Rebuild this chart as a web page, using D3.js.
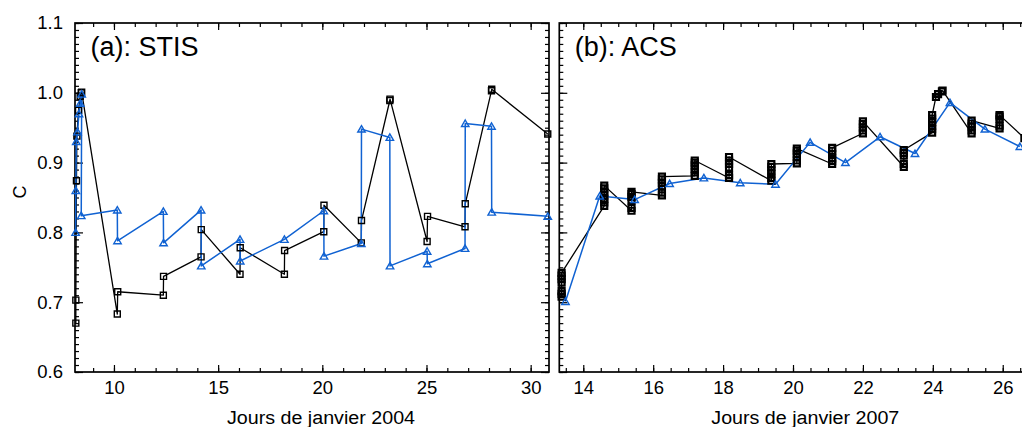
<!DOCTYPE html>
<html>
<head>
<meta charset="utf-8">
<script src="https://cdn.jsdelivr.net/npm/d3@7"></script>
<style>
  html, body { margin: 0; padding: 0; background: #fff; }
  svg { display: block; font-family: "Liberation Sans", Arial, Helvetica, sans-serif; }
</style>
</head>
<body>
<svg id="chart" width="1022" height="427"></svg>
<script>
// ---------- DATA ----------
// Panel (a) STIS, January 2004 — black squares
const stisBlackDays = [8.17, 8.17, 8.20, 8.22, 8.30, 8.38, 8.43, 8.45,
  10.16, 10.18, 12.37, 12.38, 14.18, 14.19, 16.05, 16.06, 18.18, 18.19,
  20.07, 20.08, 21.87, 21.88, 23.24, 23.25, 25.03, 25.05, 26.85, 26.86, 28.12, 28.13, 30.82];
const stisBlackVals = [0.670, 0.703, 0.874, 0.938, 0.975, 0.995, 1.000, 1.001,
  0.683, 0.715, 0.710, 0.737, 0.765, 0.804, 0.740, 0.778, 0.740, 0.774,
  0.801, 0.839, 0.785, 0.817, 0.989, 0.991, 0.787, 0.823, 0.808, 0.841, 1.003, 1.005, 0.941];
// Panel (a) STIS — blue triangles
const stisBlueDays = [8.16, 8.17, 8.19, 8.25, 8.32, 8.38, 8.45, 8.43,
  10.16, 10.17, 12.37, 12.38, 14.18, 14.19, 16.05, 16.06, 18.18,
  20.07, 20.08, 21.87, 21.88, 23.24, 23.25, 25.03, 25.04, 26.85, 26.86, 28.12, 28.13, 30.82];
const stisBlueVals = [0.800, 0.860, 0.930, 0.944, 0.970, 0.985, 0.998, 0.824,
  0.832, 0.788, 0.830, 0.785, 0.832, 0.752, 0.790, 0.759, 0.790,
  0.831, 0.766, 0.784, 0.948, 0.936, 0.752, 0.773, 0.755, 0.777, 0.956, 0.952, 0.829, 0.823];

// Panel (b) ACS, January 2007 — black squares
const acsBlackDays = [
  13.38, 13.38, 13.38, 13.38, 13.38, 13.38, 13.38,
  14.60, 14.60, 14.60, 14.60, 14.60, 14.60, 14.60,
  15.38, 15.38, 15.38, 15.38, 15.38, 15.38,
  16.25, 16.25, 16.25, 16.25, 16.25, 16.25,
  17.19, 17.19, 17.19, 17.19, 17.19, 17.19,
  18.17, 18.17, 18.17, 18.17, 18.17, 18.17,
  19.38, 19.38, 19.38, 19.38, 19.38, 19.38,
  20.11, 20.11, 20.11, 20.11, 20.11, 20.11,
  21.12, 21.12, 21.12, 21.12, 21.12, 21.12,
  22.00, 22.00, 22.00, 22.00, 22.00,
  23.17, 23.17, 23.17, 23.17, 23.17,
  23.98, 23.98, 23.98, 23.98, 23.98, 23.98,
  24.09, 24.15, 24.26, 24.28,
  25.11, 25.11, 25.11, 25.11, 25.11,
  25.91, 25.91, 25.91, 25.91, 25.91,
  26.62];
const acsBlackVals = [
  0.708, 0.712, 0.716, 0.728, 0.733, 0.738, 0.742,
  0.838, 0.843, 0.848, 0.853, 0.858, 0.863, 0.867,
  0.831, 0.835, 0.846, 0.851, 0.855, 0.858,
  0.853, 0.857, 0.866, 0.871, 0.876, 0.880,
  0.881, 0.886, 0.891, 0.896, 0.900, 0.903,
  0.878, 0.882, 0.893, 0.898, 0.903, 0.908,
  0.874, 0.878, 0.884, 0.889, 0.894, 0.898,
  0.899, 0.903, 0.908, 0.913, 0.917, 0.920,
  0.898, 0.902, 0.906, 0.912, 0.917, 0.921,
  0.942, 0.946, 0.950, 0.955, 0.959,
  0.894, 0.898, 0.910, 0.914, 0.918,
  0.943, 0.948, 0.953, 0.958, 0.963, 0.968,
  0.994, 0.998, 1.002, 1.003,
  0.942, 0.946, 0.952, 0.956, 0.960,
  0.949, 0.953, 0.962, 0.966, 0.968,
  0.935];
// Panel (b) ACS — blue triangles
const acsBlueDays = [13.49, 14.47, 15.47, 16.47, 17.45, 18.49, 19.50, 20.49, 21.50, 22.49, 23.49, 24.49, 25.49, 26.49];
const acsBlueVals = [0.701, 0.852, 0.847, 0.870, 0.878, 0.871, 0.869, 0.929, 0.900, 0.937, 0.913, 0.986, 0.948, 0.923];

// Tick values / labels
const yMajorTicks = [0.6, 0.7, 0.8, 0.9, 1.0, 1.1];
const yMinorTicks = d3.range(60, 111).map(v => v / 100);
const stisXMajor = [10, 15, 20, 25, 30];
const stisXMinor = d3.range(9, 31);
const acsXMajor = [14, 16, 18, 20, 22, 24, 26];
const acsXMinor = d3.range(27, 54).map(v => v / 2);
const panelTitles = ["(a): STIS", "(b): ACS"];
const xTitles = ["Jours de janvier 2004", "Jours de janvier 2007"];
const yTitle = "C";

// ---------- DRAW ----------
const svg = d3.select("#chart");
const BLUE = "#1062d2";
const yTop = 23, yBot = 372;
const y = d3.scaleLinear().domain([0.6, 1.1]).range([yBot, yTop]);

function panel(x0, x1, domain, xMajor, xMinor, showYLabels, title, xTitle, blackD, blackV, blueD, blueV, sqStroke) {
  const x = d3.scaleLinear().domain(domain).range([x0, x1]);
  const g = svg.append("g");

  const styleAxis = sel => {
    sel.select(".domain").remove();
    sel.selectAll(".tick line").attr("stroke", "#000").attr("stroke-width", 1.2);
    sel.selectAll("text").attr("font-family", null).attr("font-size", "18.5px").attr("fill", "#000");
  };

  // bottom axis
  g.append("g").attr("transform", `translate(0,${yBot})`)
    .call(d3.axisBottom(x).tickValues(xMinor).tickSize(-4).tickSizeOuter(0).tickFormat(""))
    .call(styleAxis);
  g.append("g").attr("transform", `translate(0,${yBot})`)
    .call(d3.axisBottom(x).tickValues(xMajor).tickSize(-7).tickSizeOuter(0).tickPadding(9).tickFormat(d3.format("d")))
    .call(styleAxis);
  // top axis
  g.append("g").attr("transform", `translate(0,${yTop})`)
    .call(d3.axisTop(x).tickValues(xMinor).tickSize(-4).tickSizeOuter(0).tickFormat(""))
    .call(styleAxis);
  g.append("g").attr("transform", `translate(0,${yTop})`)
    .call(d3.axisTop(x).tickValues(xMajor).tickSize(-7).tickSizeOuter(0).tickFormat(""))
    .call(styleAxis);
  // left axis
  g.append("g").attr("transform", `translate(${x0},0)`)
    .call(d3.axisLeft(y).tickValues(yMinorTicks).tickSize(-4).tickSizeOuter(0).tickFormat(""))
    .call(styleAxis);
  g.append("g").attr("transform", `translate(${x0},0)`)
    .call(d3.axisLeft(y).tickValues(yMajorTicks).tickSize(-8).tickSizeOuter(0).tickPadding(12)
      .tickFormat(showYLabels ? d3.format(".1f") : ""))
    .call(styleAxis);
  // right axis
  g.append("g").attr("transform", `translate(${x1},0)`)
    .call(d3.axisRight(y).tickValues(yMinorTicks).tickSize(-4).tickSizeOuter(0).tickFormat(""))
    .call(styleAxis);
  g.append("g").attr("transform", `translate(${x1},0)`)
    .call(d3.axisRight(y).tickValues(yMajorTicks).tickSize(-8).tickSizeOuter(0).tickFormat(""))
    .call(styleAxis);

  // frame
  g.append("rect").attr("x", x0).attr("y", yTop).attr("width", x1 - x0).attr("height", yBot - yTop)
    .attr("fill", "none").attr("stroke", "#000").attr("stroke-width", 1.7);

  // data
  const black = blackD.map((d, i) => [d, blackV[i]]);
  const blue = blueD.map((d, i) => [d, blueV[i]]);
  const line = d3.line().x(d => x(d[0])).y(d => y(d[1]));

  g.append("path").datum(black).attr("d", line).attr("fill", "none")
    .attr("stroke", "#000").attr("stroke-width", 1.3).attr("stroke-linejoin", "round");
  g.append("path").datum(blue).attr("d", line).attr("fill", "none")
    .attr("stroke", BLUE).attr("stroke-width", 1.5).attr("stroke-linejoin", "round");

  const sq = d3.symbol().type(d3.symbolSquare).size(36);
  const tri = d3.symbol().type(d3.symbolTriangle).size(24);
  g.append("g").selectAll("path").data(black).join("path")
    .attr("d", sq).attr("transform", d => `translate(${x(d[0])},${y(d[1])})`)
    .attr("fill", "none").attr("stroke", "#000").attr("stroke-width", sqStroke);
  g.append("g").selectAll("path").data(blue).join("path")
    .attr("d", tri).attr("transform", d => `translate(${x(d[0])},${y(d[1]) + 0.8})`)
    .attr("fill", "none").attr("stroke", BLUE).attr("stroke-width", 1.4);

  // titles
  g.append("text").attr("x", x0 + 15.5).attr("y", 56).attr("font-size", "27px").attr("fill", "#000").text(title);
  g.append("text").attr("x", x0 + 246).attr("y", 424).attr("text-anchor", "middle")
    .attr("font-size", "18px").attr("textLength", 188).attr("lengthAdjust", "spacingAndGlyphs").attr("fill", "#000").text(xTitle);
  return g;
}

panel(75, 549, [8.13, 30.88], stisXMajor, stisXMinor, true, panelTitles[0], xTitles[0],
  stisBlackDays, stisBlackVals, stisBlueDays, stisBlueVals, 1.4);
panel(559.3, 1033, [13.314, 26.866], acsXMajor, acsXMinor, false, panelTitles[1], xTitles[1],
  acsBlackDays, acsBlackVals, acsBlueDays, acsBlueVals, 2.2);

// y axis title
svg.append("text").attr("transform", "translate(25.5,192) rotate(-90)")
  .attr("text-anchor", "middle").attr("font-size", "18px").attr("fill", "#000").text(yTitle);
</script>
</body>
</html>
